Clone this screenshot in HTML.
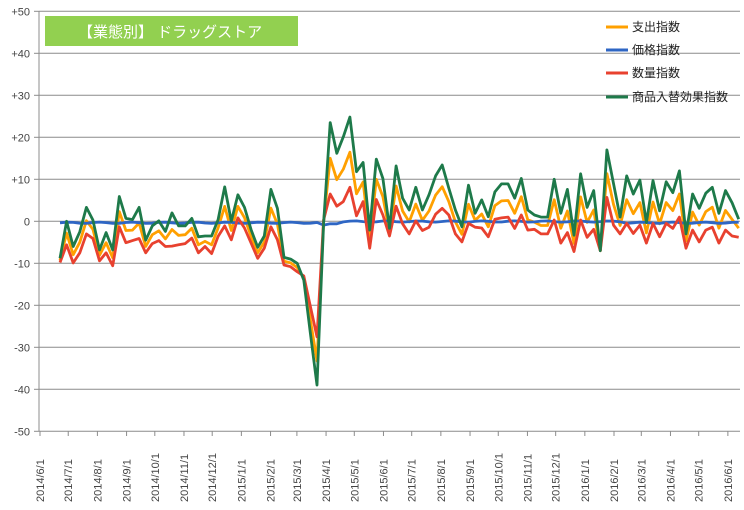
<!DOCTYPE html>
<html><head><meta charset="utf-8">
<style>
html,body{margin:0;padding:0;background:#fff;}
svg{display:block;font-family:"Liberation Sans","Noto Sans CJK JP",sans-serif;}
</style></head>
<body>
<svg id="c" width="744" height="510" viewBox="0 0 744 510" xmlns="http://www.w3.org/2000/svg">
<rect width="744" height="510" fill="#fff"/>
<g id="grid"></g>
<g id="ylab" font-size="11" fill="#444" text-anchor="end"></g>
<g id="xlab" font-size="11" fill="#444"></g>
<g id="series" fill="none" stroke-width="2.8" stroke-linejoin="round"></g>
<rect x="45" y="16" width="253" height="30" fill="#92D050"/>
<text x="78" y="37" font-size="15" fill="#fff">【業態別】 ドラッグストア</text>
<g font-size="12" fill="#222">
<line x1="606" y1="27" x2="628" y2="27" stroke="#FFA000" stroke-width="3"/><text x="632" y="31">支出指数</text>
<line x1="606" y1="50" x2="628" y2="50" stroke="#2E66C4" stroke-width="3"/><text x="632" y="54">価格指数</text>
<line x1="606" y1="73" x2="628" y2="73" stroke="#E8412F" stroke-width="3"/><text x="632" y="77">数量指数</text>
<line x1="606" y1="97" x2="628" y2="97" stroke="#1E7A4A" stroke-width="3"/><text x="632" y="101">商品入替効果指数</text>
</g>
</svg>
<script>
var NS="http://www.w3.org/2000/svg";
function el(p,t,a,txt){var e=document.createElementNS(NS,t);for(var k in a)e.setAttribute(k,a[k]);if(txt!=null)e.textContent=txt;document.getElementById(p).appendChild(e);return e;}
function Y(v){return 221.3-v*4.2;}
for(var v=-50;v<=50;v+=10){
  var y=Y(v);
  el("grid","line",{x1:39,x2:740,y1:y,y2:y,stroke:"#8c8c8c","stroke-width":1});
  el("grid","line",{x1:34,x2:39,y1:y,y2:y,stroke:"#8c8c8c","stroke-width":1});
  el("ylab","text",{x:30,y:y+4},v>0?"+"+v:""+v);
}
el("grid","line",{x1:39,x2:39,y1:Y(50),y2:Y(-50),stroke:"#8c8c8c","stroke-width":1});
var base=Date.UTC(2014,5,1);
for(var m=0;m<=24;m++){
  var yr=2014+Math.floor((5+m)/12),mo=(5+m)%12;
  var d=(Date.UTC(yr,mo,1)-base)/86400000;
  var x=40+d*0.941;
  el("grid","line",{x1:x,x2:x,y1:431.3,y2:436,stroke:"#8c8c8c","stroke-width":1});
  el("xlab","text",{x:0,y:0,transform:"translate("+(x+4)+",502) rotate(-90)"},yr+"/"+(mo+1)+"/1");
}
var G=[-8.8,0,-6,-2.5,3.3,0.3,-6.8,-2.7,-6.8,5.9,0.7,0.4,3.3,-4.5,-1.1,0.1,-2.4,2,-1.1,-1.1,0.7,-3.7,-3.5,-3.5,0.4,8.2,0,6.3,3.3,-2,-6.2,-3.5,
7.6,3.1,-8.6,-9,-10,-14,-26.7,-39,-0.5,23.5,16.2,20.1,24.8,11.8,14,-2.1,14.8,10.2,-1.7,13.2,5.5,2.7,8.1,2.7,6.3,10.8,13.4,7.9,2.7,-1.3,8.6,1.9,5.1,1.1,7,8.9,8.9,
5.5,10.2,2.7,1.5,1,1,10,1.9,7.6,-3.3,11.3,3.3,7.3,-7,17,9,1,10.8,6.5,9.8,-0.3,9.7,2.5,9.4,6.8,12,-3,6.5,3.1,6.7,8.1,1.9,7.3,4.4,0.5];
var R=[-9.8,-5.6,-9.9,-7.5,-3,-4.1,-9.4,-7.5,-10.6,-1.3,-5.1,-4.6,-4.1,-7.5,-5.3,-4.6,-6,-5.9,-5.6,-5.3,-4,-7.5,-6,-7.7,-3.6,-1.1,-4.4,0.8,-1.6,-5.2,-8.8,-6.4,
-1.3,-4.4,-10.4,-10.8,-12,-13,-20.3,-27.5,0.3,6.5,3.6,4.7,8.1,1.3,4.7,-6.4,5.2,1.5,-3.5,3.6,-0.6,-3,0.1,-2.2,-1.4,1.7,3.1,1.5,-3,-4.9,-0.5,-1.4,-1.6,-3.7,0.5,0.8,1,
-1.7,1.5,-2.1,-1.9,-3,-3,0.3,-5.2,-2.7,-7.2,0.3,-3.8,-1.9,-7,5.7,-0.9,-3,-0.5,-2.9,-0.9,-5.2,-0.5,-3.7,-0.5,-1.7,1,-6.4,-2.1,-4.9,-2.1,-1.4,-5.2,-2.1,-3.5,-3.8];
var n=G.length,dx=678.7/(n-1);
function pts(a){return a.map(function(v,i){return (60+i*dx).toFixed(1)+","+Y(v).toFixed(1);}).join(" ");}
var O=G.map(function(g,i){return (g+R[i])/2;});
var B=G.map(function(g,i){var v=-0.35+0.15*Math.sin(i*1.3);if(i>=40&&i<=42)v=-0.9;if(i>40)v+=0.3;if(i>85)v-=0.3;return v;});
el("series","polyline",{points:pts(O),stroke:"#FFA000"});
el("series","polyline",{points:pts(B),stroke:"#2E66C4"});
el("series","polyline",{points:pts(R),stroke:"#E8412F"});
el("series","polyline",{points:pts(G),stroke:"#1E7A4A"});
</script>
</body></html>
